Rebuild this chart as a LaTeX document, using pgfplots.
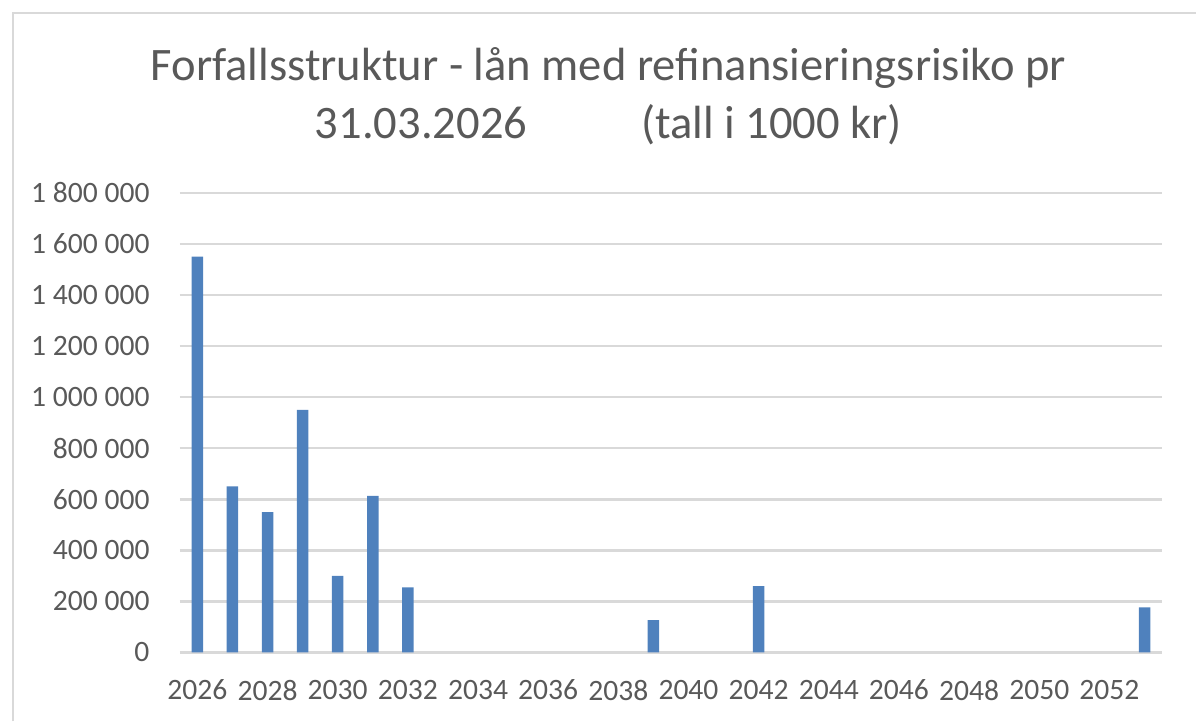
\documentclass[border=0pt]{standalone}
\usepackage{fontspec}
\setmainfont{Carlito}
\usepackage{pgfplots}
\pgfplotsset{compat=1.18}
\definecolor{barblue}{HTML}{4F81BD}
\definecolor{gridgray}{HTML}{D9D9D9}
\definecolor{txtgray}{HTML}{595959}
\begin{document}
\begin{tikzpicture}
% page size: 1 px of the reference = 0.5pt
\path (0,0) rectangle (598.5pt,361pt);
\draw[gridgray, line width=1pt] (6.5pt,0) -- (6.5pt,354.5pt) -- (598.5pt,354.5pt);
\node[txtgray, font=\fontsize{23.3}{29}\selectfont, align=center] at (304.5pt,313pt)
  {Forfallsstruktur - lån med refinansieringsrisiko pr\\31.03.2026\hspace{57pt}(tall i 1000 kr)};
\begin{axis}[
    at={(90pt,34.5pt)}, anchor=south west,
    scale only axis, width=491.5pt, height=230pt,
    ybar, bar width=5.75pt,
    xmin=2025.5, xmax=2053.5,
    ymin=0, ymax=1800000,
    xtick={2026,2028,...,2052},
    ytick={0,200000,...,1800000},
    scaled y ticks=false,
    ymajorgrids,
    grid style={gridgray, line width=1.3pt},
    axis line style={draw=none},
    major tick length=0pt,
    /pgf/number format/assume math mode=true,
    tick label style={txtgray, font=\fontsize{14.8}{17}\selectfont},
    yticklabel style={anchor=east, inner sep=0pt, xshift=-15pt,
      /pgf/number format/fixed, /pgf/number format/1000 sep={\ }},
    xticklabel style={anchor=north, inner sep=0pt, yshift=-13.5pt,
      /pgf/number format/1000 sep={}},
  ]
  \addplot[fill=barblue, draw=none] coordinates {
    (2026,1550000) (2027,650000) (2028,550000) (2029,950000)
    (2030,300000) (2031,613000) (2032,255000) (2039,127000)
    (2042,260000) (2053,177000)
  };
\end{axis}
\end{tikzpicture}
\end{document}
